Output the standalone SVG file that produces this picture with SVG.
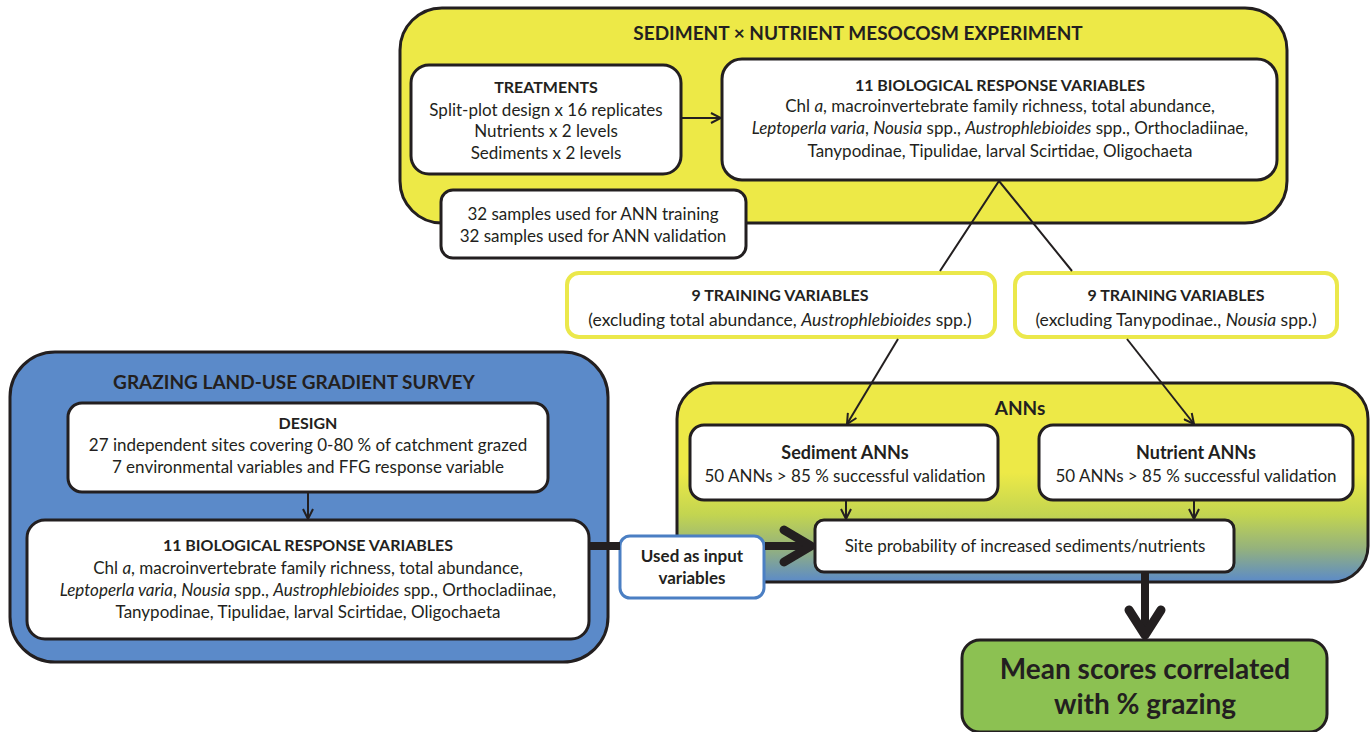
<svg xmlns="http://www.w3.org/2000/svg" width="1372" height="732" viewBox="0 0 1372 732">
<defs>
<style>
text{font-family:Lato,"Open Sans","Liberation Sans",sans-serif;fill:#231f20;font-size:17px;text-anchor:middle}
.b{font-weight:bold;font-size:16px}
.i{font-style:italic}
.t{font-size:19px;font-weight:bold}
.box{fill:#fff;stroke:#231f20;stroke-width:3}
.ln{fill:none;stroke:#231f20;stroke-width:2}
.thick{fill:none;stroke:#231f20;stroke-width:9;stroke-linecap:round;stroke-linejoin:round}
</style>
<marker id="ah" viewBox="0 0 12 12" refX="11" refY="6" markerWidth="12" markerHeight="12" markerUnits="userSpaceOnUse" orient="auto">
<path d="M1,1 L11,6 L1,11" fill="none" stroke="#231f20" stroke-width="2"/>
</marker>
<linearGradient id="ann" x1="0" y1="0" x2="0" y2="1">
<stop offset="0" stop-color="#ede947"/>
<stop offset="0.45" stop-color="#ede947"/>
<stop offset="0.66" stop-color="#c3d550"/>
<stop offset="0.83" stop-color="#95b27c"/>
<stop offset="1" stop-color="#5b8ac9"/>
</linearGradient>
</defs>

<g id="mesocosm">
<rect x="400" y="8" width="887" height="215" rx="42" fill="#ede947" stroke="#231f20" stroke-width="3"/>
<text class="t" x="858" y="40">SEDIMENT × NUTRIENT MESOCOSM EXPERIMENT</text>
</g>

<g id="treatments">
<rect class="box" x="411" y="65" width="270" height="109" rx="18"/>
<text class="b" x="546" y="93">TREATMENTS</text>
<text x="546" y="116">Split-plot design x 16 replicates</text>
<text x="546" y="137">Nutrients x 2 levels</text>
<text x="546" y="159">Sediments x 2 levels</text>
</g>

<g id="bio-meso">
<rect class="box" x="722" y="59" width="555" height="121" rx="20"/>
<text class="b" x="1000" y="91">11 BIOLOGICAL RESPONSE VARIABLES</text>
<text x="1000" y="112">Chl <tspan class="i">a</tspan>, macroinvertebrate family richness, total abundance,</text>
<text x="1000" y="134"><tspan class="i">Leptoperla varia</tspan>, <tspan class="i">Nousia</tspan> spp., <tspan class="i">Austrophlebioides</tspan> spp., Orthocladiinae,</text>
<text x="1000" y="157">Tanypodinae, Tipulidae, larval Scirtidae, Oligochaeta</text>
</g>

<g id="samples">
<rect class="box" x="441" y="190" width="305" height="68" rx="12"/>
<text x="593" y="220">32 samples used for ANN training</text>
<text x="593" y="242">32 samples used for ANN validation</text>
</g>

<g id="train-left">
<rect x="567" y="273" width="428" height="64" rx="12" fill="#fff" stroke="#ebe84b" stroke-width="4"/>
<text class="b" x="780" y="301">9 TRAINING VARIABLES</text>
<text x="780" y="326" style="font-size:17.5px">(excluding total abundance, <tspan class="i">Austrophlebioides</tspan> spp.)</text>
</g>

<g id="train-right">
<rect x="1015" y="273" width="322" height="64" rx="12" fill="#fff" stroke="#ebe84b" stroke-width="4"/>
<text class="b" x="1176" y="301">9 TRAINING VARIABLES</text>
<text x="1176" y="326" style="font-size:17.5px">(excluding Tanypodinae., <tspan class="i">Nousia</tspan> spp.)</text>
</g>

<g id="survey">
<rect x="10" y="352" width="598" height="310" rx="45" fill="#5b8ac9" stroke="#231f20" stroke-width="3"/>
<text class="t" x="294" y="389">GRAZING LAND-USE GRADIENT SURVEY</text>
</g>

<g id="design">
<rect class="box" x="68" y="403" width="480" height="89" rx="14"/>
<text class="b" x="308" y="429">DESIGN</text>
<text x="308" y="451">27 independent sites covering 0-80 % of catchment grazed</text>
<text x="308" y="473">7 environmental variables and FFG response variable</text>
</g>

<g id="bio-survey">
<rect class="box" x="27" y="520" width="562" height="119" rx="18"/>
<text class="b" x="308" y="551">11 BIOLOGICAL RESPONSE VARIABLES</text>
<text x="308" y="574">Chl <tspan class="i">a</tspan>, macroinvertebrate family richness, total abundance,</text>
<text x="308" y="596"><tspan class="i">Leptoperla varia</tspan>, <tspan class="i">Nousia</tspan> spp., <tspan class="i">Austrophlebioides</tspan> spp., Orthocladiinae,</text>
<text x="308" y="618">Tanypodinae, Tipulidae, larval Scirtidae, Oligochaeta</text>
</g>

<g id="anns">
<rect x="677" y="383" width="691" height="199" rx="36" fill="url(#ann)" stroke="#231f20" stroke-width="3"/>
<text class="t" x="1020" y="415">ANNs</text>
</g>

<g id="sediment-anns">
<rect class="box" x="690" y="425" width="308" height="75" rx="14"/>
<text class="b" x="845" y="459" style="font-size:18px">Sediment ANNs</text>
<text x="845" y="482">50 ANNs &gt; 85 % successful validation</text>
</g>

<g id="nutrient-anns">
<rect class="box" x="1039" y="425" width="314" height="75" rx="14"/>
<text class="b" x="1196" y="459" style="font-size:18px">Nutrient ANNs</text>
<text x="1196" y="482">50 ANNs &gt; 85 % successful validation</text>
</g>

<g id="site-prob">
<rect class="box" x="815" y="520" width="419" height="52" rx="9"/>
<text x="1025" y="552">Site probability of increased sediments/nutrients</text>
</g>

<g id="input-label">
<rect x="620" y="536" width="144" height="62" rx="10" fill="#fff" stroke="#4b7fc3" stroke-width="3"/>
<text class="b" x="692" y="562" style="font-size:17px">Used as input</text>
<text class="b" x="692" y="584" style="font-size:17px">variables</text>
</g>

<g id="mean-scores">
<rect x="962" y="640" width="365" height="92" rx="18" fill="#8cc152" stroke="#231f20" stroke-width="3"/>
<text class="b" x="1145" y="679" style="font-size:28px">Mean scores correlated</text>
<text class="b" x="1145" y="714" style="font-size:28px">with % grazing</text>
</g>

<g id="connectors">
<line class="ln" x1="681" y1="118" x2="721" y2="118" marker-end="url(#ah)"/>
<polyline class="ln" points="940,271 999,181 1072,271"/>
<line class="ln" x1="898" y1="339" x2="847" y2="424" marker-end="url(#ah)"/>
<line class="ln" x1="1127" y1="339" x2="1194" y2="424" marker-end="url(#ah)"/>
<line class="ln" x1="846" y1="501" x2="846" y2="519" marker-end="url(#ah)"/>
<line class="ln" x1="1194" y1="501" x2="1194" y2="519" marker-end="url(#ah)"/>
<line class="ln" x1="308" y1="493" x2="308" y2="519" marker-end="url(#ah)"/>
<line x1="590" y1="546" x2="620" y2="546" stroke="#231f20" stroke-width="8"/>
<line x1="765" y1="546" x2="810" y2="546" stroke="#231f20" stroke-width="8"/>
<polyline class="thick" points="784,530 811,546 784,562"/>
<line x1="1145" y1="573" x2="1145" y2="634" stroke="#231f20" stroke-width="8"/>
<polyline class="thick" points="1129,610 1145,635 1161,610"/>
</g>
</svg>
